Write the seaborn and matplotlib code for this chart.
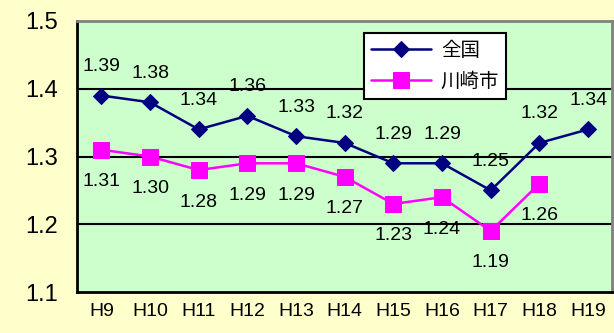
import matplotlib
matplotlib.use('Agg')
import matplotlib.pyplot as plt
import numpy as np
import pandas as pd
import seaborn as sns

years = ['H9', 'H10', 'H11', 'H12', 'H13', 'H14', 'H15', 'H16', 'H17', 'H18', 'H19']
zenkoku = [1.39, 1.38, 1.34, 1.36, 1.33, 1.32, 1.29, 1.29, 1.25, 1.32, 1.34]
kawasaki = [1.31, 1.30, 1.28, 1.29, 1.29, 1.27, 1.23, 1.24, 1.19, 1.26, np.nan]
yticks = [1.1, 1.2, 1.3, 1.4, 1.5]

sns.set_style('white', {'text.color': 'black', 'xtick.color': 'black', 'ytick.color': 'black'})
plt.rcParams['font.family'] = ['Liberation Sans', 'Noto Sans CJK JP', 'DejaVu Sans']

df = pd.DataFrame({'pos': np.arange(len(years)), 'year': years,
                   'zenkoku': zenkoku, 'kawasaki': kawasaki})

fig = plt.figure(figsize=(6.14, 3.33), dpi=100, facecolor='#FFFFCC')
ax = fig.add_axes([0.1254, 0.123, 0.872, 0.814])
ax.set_facecolor('#CCFFCC')

sns.lineplot(data=df, x='pos', y='zenkoku', ax=ax, color='#000080', marker='D',
             markersize=8, markeredgecolor='#000080', linewidth=1.8, label='全国')
sns.lineplot(data=df.dropna(), x='pos', y='kawasaki', ax=ax, color='#FF00FF', marker='s',
             markersize=11, markeredgecolor='#FF00FF', linewidth=1.8, label='川崎市')

# value labels: national above, Kawasaki below
for i, v in enumerate(zenkoku):
    ax.annotate(f'{v:.2f}', (i, v), xytext=(0, 21), textcoords='offset points',
                ha='center', va='center', fontsize=14, color='black')
for i, v in enumerate(kawasaki):
    if not np.isnan(v):
        ax.annotate(f'{v:.2f}', (i, v), xytext=(0, -23), textcoords='offset points',
                    ha='center', va='center', fontsize=14, color='black')

ax.set_xlim(-0.5, len(years) - 0.5)
ax.set_ylim(1.1, 1.5)
ax.set_yticks(yticks)
ax.set_yticklabels([f'{t:.1f}' for t in yticks], fontsize=17)
ax.set_xticks(np.arange(len(years)))
ax.set_xticklabels(years, fontsize=14)
ax.set_xticks(np.arange(len(years) + 1) - 0.5, minor=True)
ax.tick_params(axis='x', which='major', length=0, pad=8, labelcolor='black')
ax.tick_params(axis='x', which='minor', direction='in', length=5, width=1.5, color='black')
ax.tick_params(axis='y', length=0, pad=14, labelcolor='black')
for y in yticks[1:-1]:
    ax.axhline(y, color='black', linewidth=1.5, zorder=1)
ax.set_xlabel('')
ax.set_ylabel('')

for s in ['left', 'bottom']:
    ax.spines[s].set_color('black')
    ax.spines[s].set_linewidth(2)
for s in ['top', 'right']:
    ax.spines[s].set_color('#808080')
    ax.spines[s].set_linewidth(2)

leg = ax.legend(loc='upper left', bbox_to_anchor=(0.536, 0.955), fontsize=14,
                frameon=True, fancybox=False, framealpha=1, edgecolor='black',
                handlelength=3.1, borderpad=0.35, labelspacing=0.5, handletextpad=0.5,
                borderaxespad=0)
leg.get_frame().set_linewidth(1.5)
for t in leg.get_texts():
    t.set_fontfamily(['Noto Sans CJK JP', 'DejaVu Sans'])
    t.set_color('black')

fig.savefig('out.png', dpi=100, facecolor=fig.get_facecolor())
